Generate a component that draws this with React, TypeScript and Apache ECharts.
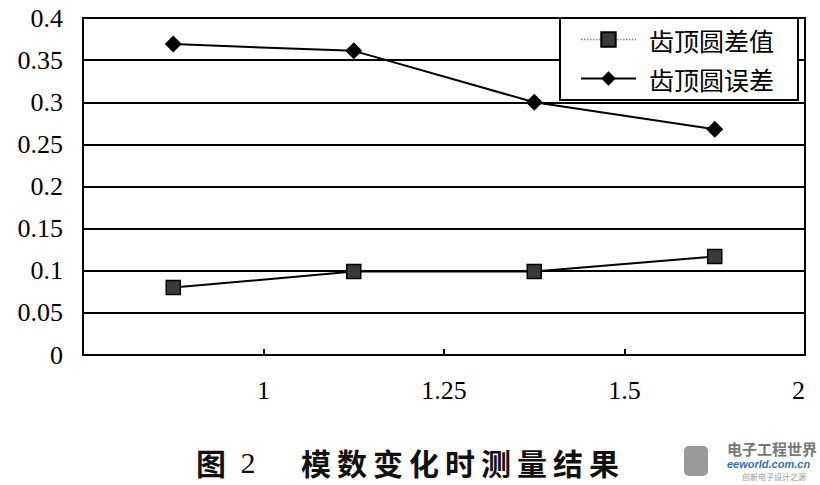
import React, { useEffect, useRef } from "react";
import * as echarts from "echarts";

const xTickLabels = ["", "1", "1.25", "1.5", "2"];
const xPositions = [0.5, 1.5, 2.5, 3.5];
const seriesNames = ["齿顶圆差值", "齿顶圆误差"];
const diffValues = [0.08, 0.099, 0.099, 0.117];
const errorValues = [0.369, 0.361, 0.3, 0.268];
const captionLead = ["图", "2"];
const captionBody = ["模", "数", "变", "化", "时", "测", "量", "结", "果"];

export default function App() {
  const ref = useRef<HTMLDivElement>(null);
  useEffect(() => {
    if (!ref.current) return;
    const chart = echarts.init(ref.current, undefined, { renderer: "svg" });
    const serif = "'Liberation Serif', 'DejaVu Serif', serif";
    const cjk = "'Noto Sans CJK SC', sans-serif";
    const captionEls: any[] = [];
    captionLead.forEach((c, i) => {
      captionEls.push({
        type: "text",
        x: i === 0 ? 211 : 248,
        y: 462,
        style: {
          text: c,
          font: i === 0 ? `bold 30px ${cjk}` : `30px ${serif}`,
          fill: "#111",
          align: "center",
          verticalAlign: "middle",
        },
      });
    });
    captionBody.forEach((c, i) => {
      captionEls.push({
        type: "text",
        x: 316 + i * 36,
        y: 462,
        style: {
          text: c,
          font: `bold 30px ${cjk}`,
          fill: "#111",
          align: "center",
          verticalAlign: "middle",
        },
      });
    });
    chart.setOption({
      animation: false,
      backgroundColor: "#fff",
      grid: {
        left: 83,
        top: 18,
        right: 15,
        bottom: 130,
        show: true,
        borderColor: "#000",
        borderWidth: 2,
        backgroundColor: "transparent",
      },
      legend: {
        orient: "vertical",
        left: 560,
        top: 18,
        data: [
          {
            name: seriesNames[0],
            lineStyle: { color: "#888", type: "dotted", width: 1.5 },
          },
          { name: seriesNames[1] },
        ],
        backgroundColor: "#fff",
        borderColor: "#000",
        borderWidth: 2,
        padding: [9, 24, 9, 20],
        itemWidth: 55,
        itemHeight: 18,
        itemGap: 14,
        textStyle: {
          fontFamily: cjk,
          fontSize: 25,
          color: "#000",
          padding: [0, 0, 0, 8],
        },
      },
      xAxis: {
        type: "value",
        min: 0,
        max: 4,
        interval: 1,
        axisLine: { show: true, lineStyle: { color: "#000", width: 2 } },
        axisTick: { show: true, inside: true, length: 6, lineStyle: { color: "#000", width: 2 } },
        splitLine: { show: false },
        axisLabel: {
          formatter: (v: number) => xTickLabels[Math.round(v)] ?? "",
          fontFamily: serif,
          fontSize: 26,
          color: "#000",
          margin: 22,
          alignMaxLabel: "right",
        },
      },
      yAxis: {
        type: "value",
        min: 0,
        max: 0.4,
        interval: 0.05,
        axisLine: { show: true, lineStyle: { color: "#000", width: 2 } },
        axisTick: { show: false },
        splitLine: { show: true, lineStyle: { color: "#000", width: 2 } },
        axisLabel: {
          fontFamily: serif,
          fontSize: 26,
          color: "#000",
          margin: 20,
        },
      },
      series: [
        {
          name: seriesNames[0],
          type: "line",
          data: xPositions.map((x, i) => [x, diffValues[i]]),
          symbol: "rect",
          symbolSize: 14,
          itemStyle: { color: "#3a3a3a", borderColor: "#000", borderWidth: 1.5 },
          lineStyle: { color: "#000", width: 2 },
        },
        {
          name: seriesNames[1],
          type: "line",
          data: xPositions.map((x, i) => [x, errorValues[i]]),
          symbol: "diamond",
          symbolSize: 17,
          itemStyle: { color: "#000" },
          lineStyle: { color: "#000", width: 2 },
        },
      ],
      graphic: [
        ...captionEls,
        {
          type: "rect",
          shape: { x: 684, y: 446, width: 24, height: 30, r: 5 },
          style: { fill: "#9a9a9a" },
        },
        {
          type: "text",
          x: 727,
          y: 441,
          style: { text: "电子工程世界", font: `bold 15px ${cjk}`, fill: "#777" },
        },
        {
          type: "text",
          x: 727,
          y: 458,
          style: { text: "eeworld.com.cn", font: `italic bold 11px 'Liberation Sans', sans-serif`, fill: "#2f6fb8" },
        },
        {
          type: "text",
          x: 742,
          y: 472,
          style: { text: "创新电子设计之源", font: `8px ${cjk}`, fill: "#999" },
        },
      ],
    });
    return () => chart.dispose();
  }, []);
  return (
    <div
      ref={ref}
      style={{ position: "fixed", left: 0, top: 0, width: 820, height: 485, background: "#fff" }}
    />
  );
}
